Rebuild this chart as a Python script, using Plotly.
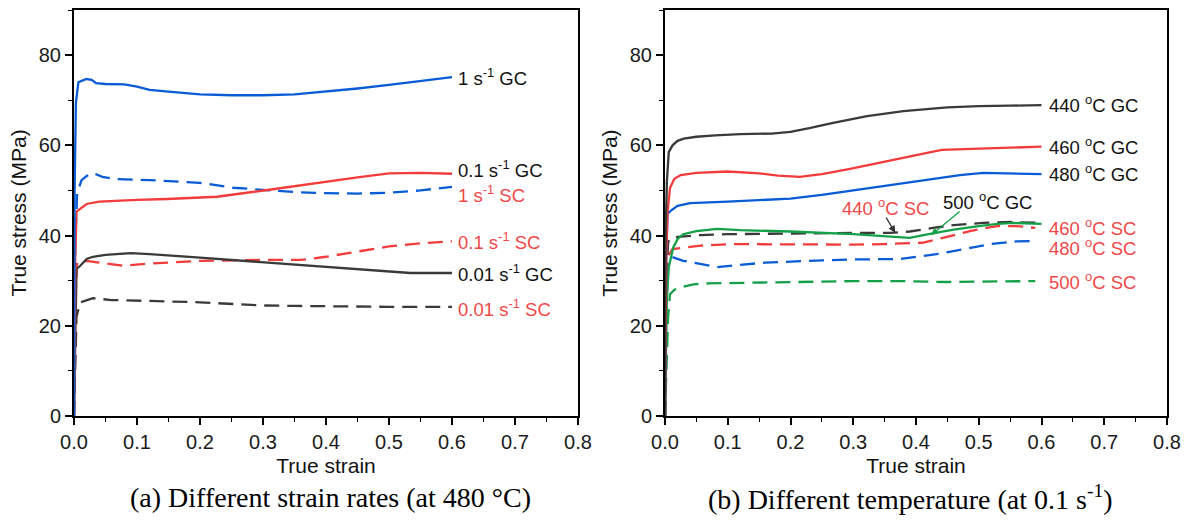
import plotly.graph_objects as go

# ---------------- data: panel (a) strain rates at 480 C ----------------
a_1GC_x = [0, 0.001, 0.003, 0.007, 0.012, 0.02, 0.028, 0.035, 0.05, 0.08, 0.1, 0.12, 0.15, 0.2, 0.25, 0.3, 0.35, 0.4, 0.45, 0.5, 0.55, 0.6]
a_1GC_y = [0, 50, 69.4, 74.0, 74.3, 74.7, 74.5, 73.8, 73.6, 73.5, 73.0, 72.3, 71.9, 71.3, 71.1, 71.1, 71.3, 71.9, 72.6, 73.4, 74.2, 75.1]

a_1SC_x = [0, 0.002, 0.005, 0.012, 0.02, 0.03, 0.045, 0.068, 0.12, 0.2, 0.253, 0.307, 0.354, 0.4, 0.45, 0.5, 0.55, 0.6]
a_1SC_y = [0, 38, 49.4, 52.3, 53.2, 53.9, 53.0, 52.5, 52.3, 51.7, 50.6, 50.1, 49.6, 49.4, 49.3, 49.5, 50.0, 50.8]

a_01GC_x = [0, 0.002, 0.004, 0.01, 0.02, 0.04, 0.068, 0.1, 0.148, 0.2, 0.227, 0.307, 0.36, 0.4, 0.45, 0.5, 0.55, 0.6]
a_01GC_y = [0, 35, 45.3, 46.0, 47.0, 47.5, 47.7, 47.9, 48.1, 48.4, 48.6, 50.1, 51.2, 51.9, 52.9, 53.8, 53.9, 53.7]

a_01SC_x = [0, 0.002, 0.005, 0.02, 0.04, 0.078, 0.12, 0.2, 0.3, 0.36, 0.4, 0.434, 0.5, 0.55, 0.6]
a_01SC_y = [0, 25, 34.0, 34.4, 34.0, 33.3, 33.8, 34.4, 34.6, 34.6, 35.3, 36.1, 37.6, 38.3, 38.7]

a_001GC_x = [0, 0.002, 0.004, 0.01, 0.02, 0.03, 0.05, 0.09, 0.12, 0.2, 0.25, 0.327, 0.4, 0.455, 0.534, 0.6]
a_001GC_y = [0, 20, 32.6, 33.3, 34.8, 35.3, 35.7, 36.1, 35.9, 35.1, 34.6, 33.7, 33.0, 32.4, 31.7, 31.7]

a_001SC_x = [0, 0.002, 0.004, 0.01, 0.02, 0.03, 0.06, 0.1, 0.15, 0.2, 0.25, 0.3, 0.35, 0.4, 0.5, 0.6]
a_001SC_y = [0, 12, 22, 25.2, 25.7, 26.1, 25.7, 25.5, 25.4, 25.2, 24.8, 24.5, 24.4, 24.3, 24.2, 24.2]

# ---------------- data: panel (b) temperatures at 0.1 s-1 ----------------
b_440GC_x = [0, 0.001, 0.003, 0.006, 0.012, 0.02, 0.03, 0.05, 0.08, 0.12, 0.17, 0.2, 0.23, 0.268, 0.322, 0.38, 0.45, 0.5, 0.55, 0.6]
b_440GC_y = [0, 40, 52, 58.5, 60.0, 61.0, 61.5, 61.9, 62.2, 62.5, 62.6, 63.0, 63.8, 65.0, 66.5, 67.6, 68.4, 68.7, 68.8, 68.9]

b_460GC_x = [0, 0.002, 0.004, 0.008, 0.015, 0.025, 0.05, 0.1, 0.15, 0.18, 0.215, 0.25, 0.295, 0.35, 0.375, 0.41, 0.441, 0.5, 0.55, 0.6]
b_460GC_y = [0, 35, 45, 50.6, 52.6, 53.4, 53.9, 54.2, 53.8, 53.3, 53.0, 53.6, 54.8, 56.3, 57.0, 58.1, 59.0, 59.3, 59.5, 59.7]

b_480GC_x = [0, 0.002, 0.004, 0.01, 0.02, 0.04, 0.1, 0.15, 0.2, 0.25, 0.3, 0.375, 0.43, 0.47, 0.507, 0.55, 0.6]
b_480GC_y = [0, 35, 44.8, 45.6, 46.6, 47.2, 47.5, 47.8, 48.2, 49.0, 50.0, 51.4, 52.6, 53.4, 53.9, 53.7, 53.6]

b_500GC_x = [0, 0.003, 0.006, 0.013, 0.02, 0.029, 0.05, 0.083, 0.12, 0.2, 0.3, 0.35, 0.39, 0.42, 0.46, 0.5, 0.53, 0.555, 0.6]
b_500GC_y = [0, 26, 33, 37.3, 39.2, 40.3, 41.0, 41.5, 41.2, 40.9, 40.3, 39.8, 39.5, 40.3, 41.3, 42.1, 42.6, 42.8, 42.6]

b_440SC_x = [0, 0.002, 0.005, 0.008, 0.02, 0.056, 0.1, 0.2, 0.3, 0.359, 0.39, 0.427, 0.46, 0.507, 0.55, 0.6]
b_440SC_y = [0, 30, 38.5, 39.3, 39.7, 40.1, 40.3, 40.5, 40.6, 40.6, 40.9, 41.7, 42.3, 42.8, 43.0, 42.8]

b_460SC_x = [0, 0.002, 0.005, 0.012, 0.03, 0.06, 0.108, 0.2, 0.3, 0.348, 0.41, 0.443, 0.486, 0.529, 0.56, 0.59]
b_460SC_y = [0, 28, 35.5, 37.0, 37.3, 37.8, 38.1, 38.0, 38.0, 38.1, 38.4, 39.5, 41.0, 42.1, 42.1, 41.7]

b_480SC_x = [0, 0.002, 0.005, 0.01, 0.029, 0.06, 0.083, 0.11, 0.16, 0.25, 0.3, 0.375, 0.433, 0.47, 0.518, 0.56, 0.59]
b_480SC_y = [0, 25, 33, 35.3, 34.4, 33.5, 33.0, 33.4, 34.0, 34.5, 34.7, 34.8, 35.9, 36.8, 38.1, 38.7, 38.8]

b_500SC_x = [0, 0.002, 0.005, 0.008, 0.015, 0.03, 0.045, 0.07, 0.108, 0.2, 0.3, 0.375, 0.45, 0.5, 0.59]
b_500SC_y = [0, 10, 22, 27.0, 28.0, 28.7, 29.2, 29.4, 29.5, 29.8, 29.9, 29.9, 29.7, 29.8, 29.9]

# labels
a_labels = ["1 s<sup>-1</sup> GC", "0.1 s<sup>-1</sup> GC", "1 s<sup>-1</sup> SC",
            "0.1 s<sup>-1</sup> SC", "0.01 s<sup>-1</sup> GC", "0.01 s<sup>-1</sup> SC"]
a_label_y = [75.2, 54.8, 49.3, 38.8, 31.7, 23.9]
a_label_red = [False, False, True, True, False, True]

b_labels = ["440 <sup>o</sup>C GC", "460 <sup>o</sup>C GC", "480 <sup>o</sup>C GC",
            "460 <sup>o</sup>C SC", "480 <sup>o</sup>C SC", "500 <sup>o</sup>C SC"]
b_label_y = [69.2, 59.9, 53.9, 41.8, 37.4, 29.9]
b_label_red = [False, False, False, True, True, True]

x_ticks = [0, 0.1, 0.2, 0.3, 0.4, 0.5, 0.6, 0.7, 0.8]
y_ticks = [0, 20, 40, 60, 80]

BLUE = "#0a5bd6"
RED = "#f23c3c"
BLACK = "#3a3a3a"
GREEN = "#13a048"
TXTRED = "#f04848"
DASH = "15px,8px"

fig = go.Figure()

def add(x, y, color, dashed, xa, ya):
    fig.add_trace(go.Scatter(
        x=x, y=y, mode="lines", xaxis=xa, yaxis=ya, showlegend=False,
        line=dict(color=color, width=2.3, dash=DASH if dashed else "solid"),
        hoverinfo="skip"))

# panel a (draw order: dashed first)
add(a_001SC_x, a_001SC_y, BLACK, True, "x", "y")
add(a_01SC_x, a_01SC_y, RED, True, "x", "y")
add(a_1SC_x, a_1SC_y, BLUE, True, "x", "y")
add(a_001GC_x, a_001GC_y, BLACK, False, "x", "y")
add(a_01GC_x, a_01GC_y, RED, False, "x", "y")
add(a_1GC_x, a_1GC_y, BLUE, False, "x", "y")

# panel b
add(b_500SC_x, b_500SC_y, GREEN, True, "x2", "y2")
add(b_480SC_x, b_480SC_y, BLUE, True, "x2", "y2")
add(b_460SC_x, b_460SC_y, RED, True, "x2", "y2")
add(b_440SC_x, b_440SC_y, BLACK, True, "x2", "y2")
add(b_500GC_x, b_500GC_y, GREEN, False, "x2", "y2")
add(b_480GC_x, b_480GC_y, BLUE, False, "x2", "y2")
add(b_460GC_x, b_460GC_y, RED, False, "x2", "y2")
add(b_440GC_x, b_440GC_y, BLACK, False, "x2", "y2")

TICKFONT = dict(family="Liberation Sans, Arial", size=20, color="#1a1a1a")
TITLEFONT = dict(family="Liberation Sans, Arial", size=21, color="#111")

def xaxis(domain, anchor):
    return dict(domain=domain, anchor=anchor, range=[0, 0.8], tickvals=x_ticks,
                ticktext=[f"{v:.1f}" for v in x_ticks], automargin=False,
                showline=True, linecolor="black", linewidth=2, mirror=True,
                ticks="outside", ticklen=7, tickwidth=1.6, tickcolor="black",
                minor=dict(dtick=0.05, ticks="outside", ticklen=4, tickwidth=1.4, tickcolor="black", showgrid=False),
                showgrid=False, zeroline=False, tickfont=TICKFONT,
                title=dict(text="True strain", font=TITLEFONT, standoff=6))

def yaxis(domain, anchor):
    return dict(domain=domain, anchor=anchor, range=[0, 90], tickvals=y_ticks, automargin=False,
                showline=True, linecolor="black", linewidth=2, mirror=True,
                ticks="outside", ticklen=7, tickwidth=1.6, tickcolor="black",
                minor=dict(dtick=10, ticks="outside", ticklen=4, tickwidth=1.4, tickcolor="black", showgrid=False),
                showgrid=False, zeroline=False, tickfont=TICKFONT,
                title=dict(text="True stress (MPa)", font=TITLEFONT, standoff=6))

YDOM = [1 - 416 / 524, 1 - 10 / 524]
fig.update_layout(
    width=1192, height=524, margin=dict(l=0, r=0, t=0, b=0, autoexpand=False),
    paper_bgcolor="white", plot_bgcolor="white",
    xaxis=xaxis([74 / 1192, 578 / 1192], "y"),
    yaxis=yaxis(YDOM, "x"),
    xaxis2=xaxis([665 / 1192, 1167 / 1192], "y2"),
    yaxis2=yaxis(YDOM, "x2"),
)

LABFONT = dict(family="Liberation Sans, Arial", size=18.5)
annos = []
for t, yv, r in zip(a_labels, a_label_y, a_label_red):
    annos.append(dict(x=0.6, y=yv, xref="x", yref="y", text=t, showarrow=False,
                      xanchor="left", yanchor="middle", xshift=4,
                      font=dict(LABFONT, color=TXTRED if r else "#111")))
for t, yv, r in zip(b_labels, b_label_y, b_label_red):
    annos.append(dict(x=0.6, y=yv, xref="x2", yref="y2", text=t, showarrow=False,
                      xanchor="left", yanchor="middle", xshift=5,
                      font=dict(LABFONT, color=TXTRED if r else "#111")))
annos.append(dict(x=0.514, y=47.7, xref="x2", yref="y2", text="500 <sup>o</sup>C GC",
                  showarrow=False, xanchor="center", yanchor="middle", font=dict(LABFONT, color="#111")))
annos.append(dict(x=0.352, y=46.3, xref="x2", yref="y2", text="440 <sup>o</sup>C SC",
                  showarrow=False, xanchor="center", yanchor="middle", font=dict(LABFONT, color=TXTRED)))
# arrows
annos.append(dict(x=0.367, y=40.6, ax=0.351, ay=44.3, xref="x2", yref="y2", axref="x2", ayref="y2",
                  text="", showarrow=True, arrowhead=2, arrowsize=1.1, arrowwidth=1.3, arrowcolor="#333"))
annos.append(dict(x=0.424, y=40.1, ax=0.472, ay=45.6, xref="x2", yref="y2", axref="x2", ayref="y2",
                  text="", showarrow=True, arrowhead=2, arrowsize=1.1, arrowwidth=1.3, arrowcolor=GREEN))
# captions
CAPFONT = dict(family="Liberation Serif, Times New Roman", size=28, color="black")
annos.append(dict(x=330 / 1192, y=1 - 497 / 524, xref="paper", yref="paper",
                  text="(a) Different strain rates (at 480 °C)", showarrow=False,
                  xanchor="center", yanchor="middle", font=CAPFONT))
annos.append(dict(x=910 / 1192, y=1 - 497 / 524, xref="paper", yref="paper",
                  text="(b) Different temperature (at 0.1 s<sup>-1</sup>)", showarrow=False,
                  xanchor="center", yanchor="middle", font=CAPFONT))
fig.update_layout(annotations=annos)

fig.write_html("out.html")
